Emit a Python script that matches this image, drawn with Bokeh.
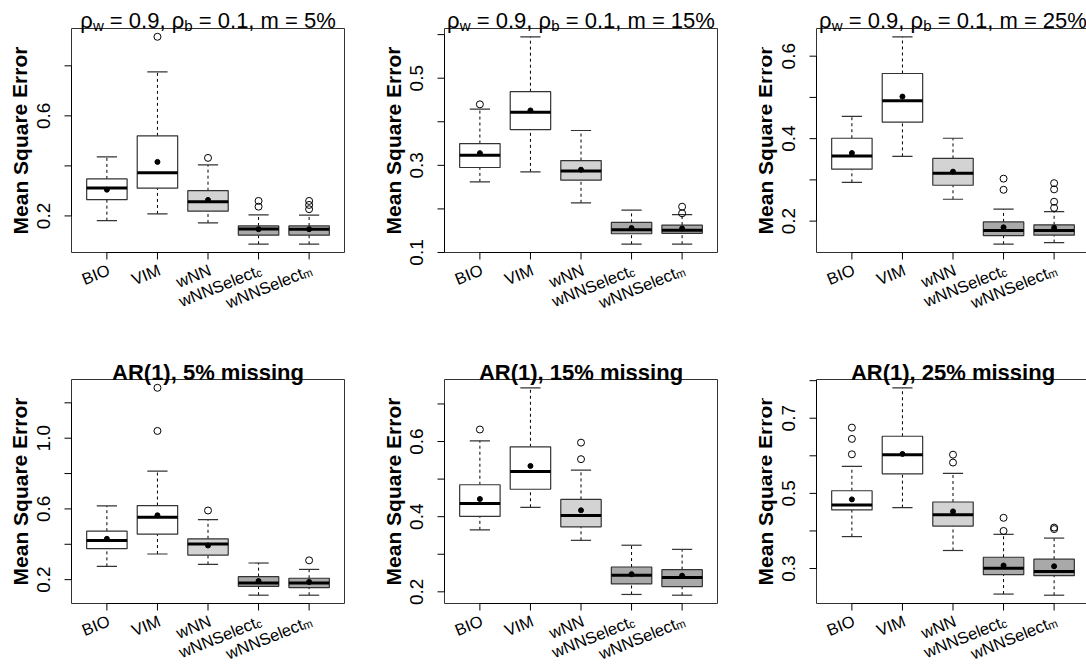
import math

from bokeh.core.properties import value
from bokeh.embed import file_html
from bokeh.layouts import column, row
from bokeh.models import ColumnDataSource, Range1d
from bokeh.plotting import figure
from bokeh.resources import INLINE

FONT = "Liberation Sans"

# Imputation methods on the x axis: base name plus subscript
method_names = ["BIO", "VIM", "wNN", "wNNSelect", "wNNSelect"]
method_subs = ["", "", "", "c", "m"]
box_colors = ["#ffffff", "#ffffff", "#d3d3d3", "#a9a9a9", "#a9a9a9"]

# --- block correlation structure, 5% missing ---
bc5_lo = [0.181, 0.208, 0.172, 0.087, 0.087]
bc5_q1 = [0.265, 0.311, 0.219, 0.123, 0.123]
bc5_med = [0.312, 0.373, 0.257, 0.148, 0.147]
bc5_q3 = [0.348, 0.520, 0.301, 0.160, 0.160]
bc5_hi = [0.436, 0.776, 0.404, 0.204, 0.203]
bc5_mean = [0.305, 0.416, 0.264, 0.147, 0.147]
bc5_out = [[], [0.916], [0.432], [0.237, 0.260], [0.227, 0.244, 0.260]]
bc5_ticks = [0.2, 0.6]
bc5_minor = [0.4, 0.8]

# --- block correlation structure, 15% missing ---
bc15_lo = [0.262, 0.285, 0.214, 0.119, 0.119]
bc15_q1 = [0.295, 0.382, 0.266, 0.143, 0.144]
bc15_med = [0.323, 0.422, 0.287, 0.152, 0.151]
bc15_q3 = [0.350, 0.469, 0.311, 0.169, 0.163]
bc15_hi = [0.429, 0.595, 0.380, 0.197, 0.187]
bc15_mean = [0.328, 0.426, 0.290, 0.156, 0.155]
bc15_out = [[0.440], [], [], [], [0.190, 0.205]]
bc15_ticks = [0.1, 0.3, 0.5]
bc15_minor = [0.2, 0.4, 0.6]

# --- block correlation structure, 25% missing ---
bc25_lo = [0.294, 0.357, 0.253, 0.144, 0.148]
bc25_q1 = [0.326, 0.440, 0.287, 0.165, 0.166]
bc25_med = [0.358, 0.492, 0.316, 0.177, 0.177]
bc25_q3 = [0.401, 0.558, 0.352, 0.198, 0.191]
bc25_hi = [0.454, 0.647, 0.401, 0.229, 0.223]
bc25_mean = [0.365, 0.502, 0.320, 0.185, 0.184]
bc25_out = [[], [], [], [0.276, 0.303], [0.232, 0.247, 0.277, 0.292]]
bc25_ticks = [0.2, 0.4, 0.6]
bc25_minor = [0.3, 0.5]

# --- AR(1), 5% missing ---
ar5_lo = [0.275, 0.345, 0.286, 0.112, 0.112]
ar5_q1 = [0.375, 0.457, 0.339, 0.162, 0.155]
ar5_med = [0.422, 0.553, 0.401, 0.181, 0.181]
ar5_q3 = [0.474, 0.619, 0.431, 0.217, 0.208]
ar5_hi = [0.617, 0.814, 0.540, 0.294, 0.258]
ar5_mean = [0.431, 0.564, 0.393, 0.192, 0.187]
ar5_out = [[], [1.041, 1.285], [0.591], [], [0.309]]
ar5_ticks = [0.2, 0.6, 1.0]
ar5_minor = [0.4, 0.8, 1.2]

# --- AR(1), 15% missing ---
ar15_lo = [0.365, 0.425, 0.337, 0.193, 0.191]
ar15_q1 = [0.401, 0.473, 0.373, 0.221, 0.214]
ar15_med = [0.435, 0.520, 0.403, 0.244, 0.238]
ar15_q3 = [0.485, 0.586, 0.446, 0.266, 0.259]
ar15_hi = [0.602, 0.743, 0.524, 0.324, 0.313]
ar15_mean = [0.447, 0.535, 0.417, 0.247, 0.243]
ar15_out = [[0.632], [], [0.553, 0.597], [], []]
ar15_ticks = [0.2, 0.4, 0.6]
ar15_minor = [0.3, 0.5, 0.7]

# --- AR(1), 25% missing ---
ar25_lo = [0.385, 0.462, 0.348, 0.232, 0.229]
ar25_q1 = [0.456, 0.552, 0.413, 0.284, 0.281]
ar25_med = [0.469, 0.603, 0.443, 0.301, 0.292]
ar25_q3 = [0.507, 0.652, 0.477, 0.330, 0.325]
ar25_hi = [0.572, 0.781, 0.553, 0.391, 0.381]
ar25_mean = [0.484, 0.605, 0.452, 0.308, 0.306]
ar25_out = [[0.604, 0.645, 0.675], [], [0.582, 0.603], [0.400, 0.435], [0.405, 0.409]]
ar25_ticks = [0.3, 0.5, 0.7]
ar25_minor = [0.4, 0.6, 0.8]

# Panel titles: (text, is_subscript) pieces for the block panels
bc_titles = [
    [("ρ", False), ("w", True), (" = 0.9, ", False), ("ρ", False), ("b", True), (" = 0.1, m = 5%", False)],
    [("ρ", False), ("w", True), (" = 0.9, ", False), ("ρ", False), ("b", True), (" = 0.1, m = 15%", False)],
    [("ρ", False), ("w", True), (" = 0.9, ", False), ("ρ", False), ("b", True), (" = 0.1, m = 25%", False)],
]
ar_titles = ["AR(1), 5% missing", "AR(1), 15% missing", "AR(1), 25% missing"]
y_title = "Mean Square Error"

# Advance widths (1/1000 em, Arial metrics) used to lay out mixed-size text
ADV = {" ": 278, ",": 278, ".": 278, "=": 584, "%": 889, "m": 833, "w": 722,
       "b": 556, "c": 500, "ρ": 578}


def text_width(s, size):
    return sum(ADV.get(ch, 556) for ch in s) * size / 1000.0


PX_PER_UNIT = 273 / 5.4   # horizontal scale shared by all panels
X_START = 0.3             # left edge of each plot box (category units)
BOX_W = 273               # plot box size in pixels
FRAME_H = 224
TITLE_SIZE = 22
TITLE_SUB = 15
XLAB_SIZE = 16.5
XLAB_SUB = 11.5
XLAB_ANGLE = math.radians(22)
TICK_LEN = 7
BOX_LINE = "#333333"


def build_panel(lo, q1, med, q3, hi, mean, outliers, major, minor, title,
                left, fig_w, top, bottom, title_gap):
    n = len(lo)
    xs = list(range(1, n + 1))
    allv = lo + hi + [v for o in outliers for v in o]
    vmin, vmax = min(allv), max(allv)
    pad = 0.04 * (vmax - vmin)
    y0, y1 = vmin - pad, vmax + pad
    sx = PX_PER_UNIT
    sy = FRAME_H / (y1 - y0)
    x_end = X_START + BOX_W / sx
    fig_h = top + FRAME_H + bottom

    p = figure(width=fig_w, height=fig_h,
               x_range=Range1d(X_START - left / sx, X_START + (fig_w - left) / sx),
               y_range=Range1d(y0 - bottom / sy, y1 + top / sy),
               title=None, x_axis_location=None, y_axis_location=None,
               output_backend="svg", toolbar_location=None, min_border=0)
    p.outline_line_color = None
    p.background_fill_color = "white"
    p.border_fill_color = "white"
    p.grid.visible = False

    # plot box
    p.quad(left=[X_START], right=[x_end], bottom=[y0], top=[y1],
           fill_color=None, line_color=BOX_LINE, line_width=1)

    # axis lines and tick marks
    ticks_all = sorted(major + minor)
    ax = dict(x0=[1, X_START], y0=[y0, ticks_all[0]], x1=[n, X_START], y1=[y0, ticks_all[-1]])
    for x in xs:
        ax["x0"].append(x); ax["y0"].append(y0)
        ax["x1"].append(x); ax["y1"].append(y0 - TICK_LEN / sy)
    for t in ticks_all:
        ax["x0"].append(X_START); ax["y0"].append(t)
        ax["x1"].append(X_START - TICK_LEN / sx); ax["y1"].append(t)
    p.segment(x0="x0", y0="y0", x1="x1", y1="y1", source=ColumnDataSource(ax),
              line_color="black", line_width=1)

    src = ColumnDataSource(dict(
        x=xs, lo=lo, q1=q1, med=med, q3=q3, hi=hi, mean=mean, fill=box_colors,
        xl=[x - 0.4 for x in xs], xr=[x + 0.4 for x in xs],
        cl=[x - 0.2 for x in xs], cr=[x + 0.2 for x in xs],
    ))

    # whiskers (dashed) and caps
    p.segment(x0="x", y0="q3", x1="x", y1="hi", source=src,
              line_color="black", line_width=1, line_dash="3 3")
    p.segment(x0="x", y0="lo", x1="x", y1="q1", source=src,
              line_color="black", line_width=1, line_dash="3 3")
    p.segment(x0="cl", y0="hi", x1="cr", y1="hi", source=src,
              line_color=BOX_LINE, line_width=1.2)
    p.segment(x0="cl", y0="lo", x1="cr", y1="lo", source=src,
              line_color=BOX_LINE, line_width=1.2)
    # boxes and medians
    p.vbar(x="x", width=0.8, bottom="q1", top="q3", source=src,
           fill_color="fill", line_color=BOX_LINE, line_width=1.2)
    p.segment(x0="xl", y0="med", x1="xr", y1="med", source=src,
              line_color="black", line_width=3)
    # outliers and means
    ox = [xs[i] for i, o in enumerate(outliers) for _ in o]
    oy = [v for o in outliers for v in o]
    p.scatter(x=ox, y=oy, size=7, fill_color=None, line_color="black", line_width=1)
    p.scatter(x="x", y="mean", source=src, size=5, fill_color="black", line_color="black")

    # all text of the panel goes through one text glyph
    tx = dict(x=[], y=[], text=[], angle=[], size=[], style=[], align=[], base=[])

    def put(x, y, text, size, angle=0.0, align="left", base="alphabetic", style="normal"):
        tx["x"].append(x); tx["y"].append(y); tx["text"].append(text)
        tx["angle"].append(angle); tx["size"].append(f"{size}px")
        tx["style"].append(style); tx["align"].append(align); tx["base"].append(base)

    # y tick labels and axis title
    for t in major:
        put(X_START - 28.5 / sx, t, f"{t:.1f}", 19, math.pi / 2, "center", "middle")
    put(X_START - 51.5 / sx, (y0 + y1) / 2, y_title, 21, math.pi / 2, "center", "middle", "bold")

    # panel title
    xc = X_START + BOX_W / 2 / sx
    if isinstance(title, str):
        put(xc, y1 + title_gap / sy, title, TITLE_SIZE, 0.0, "center", "alphabetic", "bold")
    else:
        total = sum(text_width(t, TITLE_SUB if s else TITLE_SIZE) for t, s in title)
        cur = -total / 2
        for t, s in title:
            size = TITLE_SUB if s else TITLE_SIZE
            lead = len(t) - len(t.lstrip(" "))
            xoff = cur + text_width(" " * lead, size)
            drop = 5 if s else 0
            put(xc + xoff / sx, y1 + (title_gap - drop) / sy, t.strip(), size)
            cur += text_width(t, size)

    # rotated method names under the ticks
    cs, sn = math.cos(XLAB_ANGLE), math.sin(XLAB_ANGLE)
    for i, (name, sub) in enumerate(zip(method_names, method_subs)):
        px = xs[i] + 2 / sx
        py = y0 - 16.5 / sy
        mx, my = px, py
        if sub:
            w = text_width(sub, XLAB_SUB)
            mx, my = px - w * cs / sx, py - w * sn / sy
            d = 3
            put(px + d * sn / sx, py - d * cs / sy, sub, XLAB_SUB, XLAB_ANGLE, "right", "middle")
        put(mx, my, name, XLAB_SIZE, XLAB_ANGLE, "right", "middle")

    p.text(x="x", y="y", text="text", angle="angle", source=ColumnDataSource(tx),
           text_font=value(FONT), text_font_size="size", text_font_style="style",
           text_align="align", text_baseline="base", text_color="black")
    return p


p1 = build_panel(bc5_lo, bc5_q1, bc5_med, bc5_q3, bc5_hi, bc5_mean, bc5_out,
                 bc5_ticks, bc5_minor, bc_titles[0], 71, 372, 28, 99, 8)
p2 = build_panel(bc15_lo, bc15_q1, bc15_med, bc15_q3, bc15_hi, bc15_mean, bc15_out,
                 bc15_ticks, bc15_minor, bc_titles[1], 72, 372, 28, 99, 8)
p3 = build_panel(bc25_lo, bc25_q1, bc25_med, bc25_q3, bc25_hi, bc25_mean, bc25_out,
                 bc25_ticks, bc25_minor, bc_titles[2], 72, 342, 28, 99, 8)
p4 = build_panel(ar5_lo, ar5_q1, ar5_med, ar5_q3, ar5_hi, ar5_mean, ar5_out,
                 ar5_ticks, ar5_minor, ar_titles[0], 71, 372, 28, 67, 7)
p5 = build_panel(ar15_lo, ar15_q1, ar15_med, ar15_q3, ar15_hi, ar15_mean, ar15_out,
                 ar15_ticks, ar15_minor, ar_titles[1], 72, 372, 28, 67, 7)
p6 = build_panel(ar25_lo, ar25_q1, ar25_med, ar25_q3, ar25_hi, ar25_mean, ar25_out,
                 ar25_ticks, ar25_minor, ar_titles[2], 72, 342, 28, 67, 7)

layout = column(row(p1, p2, p3), row(p4, p5, p6))

with open("out.html", "w") as f:
    f.write(file_html(layout, INLINE))
